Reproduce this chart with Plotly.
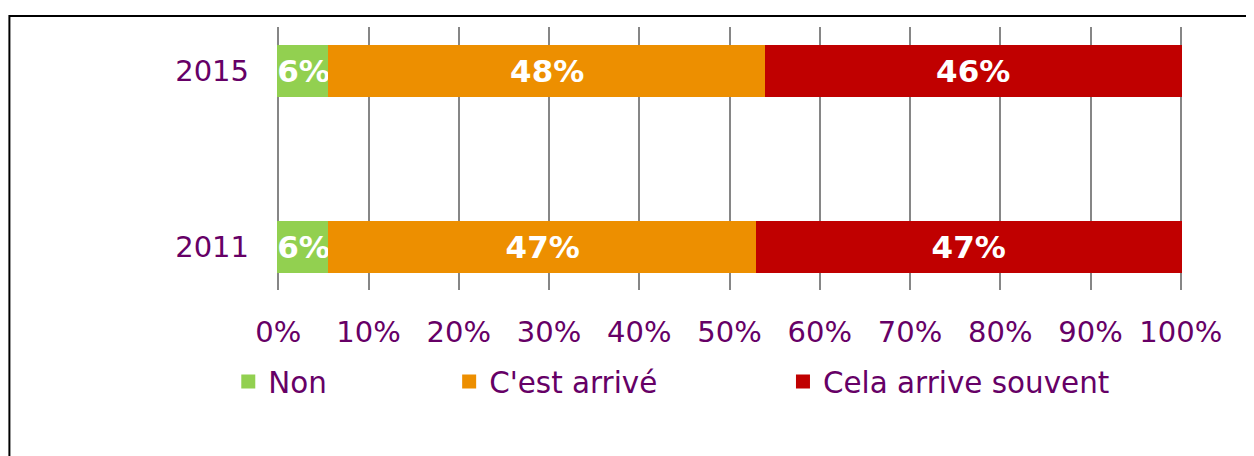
import plotly.graph_objects as go

years = ["2011", "2015"]
non = [5.6, 5.6]
arrive = [47.4, 48.4]
souvent = [47.0, 46.0]
series_names = ["Non", "C'est arrivé", "Cela arrive souvent"]
colors = ["#92D050", "#ED8F00", "#C00000"]
tick_vals = [0, 10, 20, 30, 40, 50, 60, 70, 80, 90, 100]
tick_text = [f"{v}%" for v in tick_vals]

FONT = "DejaVu Sans"
PURPLE = "#660066"

OFF = 8  # default page body margin
W, H = 1254, 456
PAD = 0.25  # small range padding so the 0% and 100% grid lines are drawn
scale = (1181 - 278) / 100.0
L = 278 - OFF - PAD * scale
R = 1181 - OFF + PAD * scale
T, B = 27 - OFF, 290 - OFF
pw, ph = R - L, B - T

def px_x(p):
    return (p - OFF - L) / pw

def px_y(p):
    return (B - (p - OFF)) / ph

fig = go.Figure()
legend_ids = ["legend", "legend2", "legend3"]
for vals, name, col, lg in zip([non, arrive, souvent], series_names, colors, legend_ids):
    fig.add_trace(go.Bar(
        y=years, x=vals, name=name, orientation="h",
        marker=dict(color=col, line=dict(width=2, color=col)),
        text=vals, texttemplate="%{x:.0f}%", textposition="inside",
        insidetextanchor="middle", constraintext="none", textangle=0,
        textfont=dict(family=FONT, size=31, color="white", weight="bold"),
        width=0.284, legend=lg, hoverinfo="skip",
    ))

leg_common = dict(orientation="h", yanchor="middle", xanchor="left",
                  font=dict(family=FONT, size=29.4, color=PURPLE),
                  bgcolor="rgba(0,0,0,0)", borderwidth=0)
leg_y = px_y(382)

fig.update_layout(
    width=W, height=H,
    margin=dict(l=L, r=W - R, t=T, b=H - B, autoexpand=False),
    barmode="stack",
    plot_bgcolor="white", paper_bgcolor="white",
    showlegend=True,
    legend=dict(x=px_x(228), y=leg_y, **leg_common),
    legend2=dict(x=px_x(449), y=leg_y, **leg_common),
    legend3=dict(x=px_x(783), y=leg_y, **leg_common),
    xaxis=dict(range=[-PAD, 100 + PAD], tickvals=tick_vals, ticktext=tick_text,
               showgrid=True, gridcolor="#868686", gridwidth=1.6,
               zeroline=False, showline=False, ticks="",
               tickfont=dict(family=FONT, size=29, color=PURPLE),
               ticklabelstandoff=22),
    yaxis=dict(type="category", range=[-0.244, 1.25], showgrid=False,
               zeroline=False, showline=False, ticks="",
               tickfont=dict(family=FONT, size=29, color=PURPLE),
               ticklabelstandoff=26),
    shapes=[dict(type="rect", xref="paper", yref="paper",
                 x0=px_x(9), x1=px_x(1280), y0=px_y(480), y1=px_y(16),
                 line=dict(color="black", width=2), fillcolor="rgba(0,0,0,0)",
                 layer="above")],
)

fig.write_html("out.html")
